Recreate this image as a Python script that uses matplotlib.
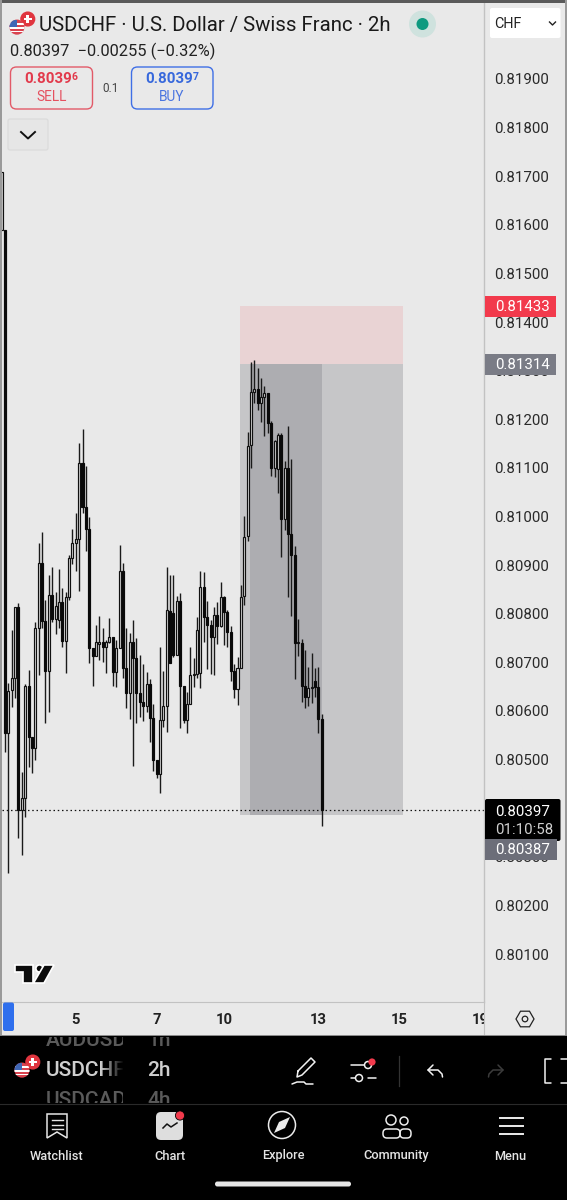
#!/usr/bin/env python3
import numpy as np
import matplotlib
matplotlib.use('Agg')
import matplotlib.pyplot as plt
from matplotlib.patches import Circle, FancyBboxPatch, Polygon, Rectangle

plt.rcParams['font.family'] = ['Roboto', 'DejaVu Sans']

# candles, in 1e-5 of a franc
opens = [81589, 81589, 80555, 80643, 80668, 80814, 80396, 80421, 80651, 80546, 80524, 80771,
         80904, 80785, 80682, 80839, 80789, 80787, 80824, 80744, 80834, 80915, 80946, 80954,
         81110, 81020, 80974, 80730, 80713, 80738, 80742, 80732, 80742, 80752, 80680, 80730,
         80888, 80688, 80637, 80742, 80709, 80637, 80618, 80610, 80656, 80586, 80499, 80470,
         80581, 80610, 80806, 80802, 80715, 80826, 80651, 80581, 80614, 80674, 80676, 80678,
         80855, 80793, 80777, 80752, 80797, 80775, 80834, 80804, 80762, 80682, 80645, 80688,
         80837, 80960, 81147, 81256, 81262, 81234, 81246, 81254, 81192, 81100, 81098, 81168,
         80995, 81100, 80964, 80921, 80740, 80740, 80651, 80629, 80647, 80662, 80649, 80584]
highs = [81709, 81589, 80658, 80767, 80814, 80822, 80474, 80656, 80684, 80546, 80783, 80946,
         80968, 80828, 80880, 80896, 80845, 80892, 80853, 80845, 80921, 80974, 81007, 81151,
         81180, 81104, 80999, 80730, 80777, 80795, 80771, 80746, 80791, 80752, 80746, 80941,
         80904, 80771, 80760, 80787, 80750, 80715, 80697, 80680, 80666, 80614, 80499, 80732,
         80682, 80896, 80880, 80880, 80837, 80843, 80651, 80639, 80732, 80709, 80793, 80888,
         80886, 80826, 80787, 80814, 80824, 80865, 80837, 80808, 80775, 80697, 80711, 80859,
         81001, 81174, 81318, 81322, 81306, 81285, 81268, 81254, 81196, 81157, 81172, 81172,
         81114, 81186, 81118, 80939, 80789, 80748, 80725, 80690, 80719, 80688, 80690, 80594]
lows = [81589, 80516, 80267, 80608, 80627, 80339, 80304, 80382, 80485, 80472, 80499, 80674,
        80771, 80575, 80598, 80783, 80758, 80771, 80732, 80678, 80828, 80902, 80888, 80847,
        81007, 80929, 80699, 80651, 80713, 80705, 80701, 80678, 80740, 80651, 80649, 80730,
        80668, 80606, 80584, 80487, 80575, 80588, 80579, 80598, 80536, 80477, 80462, 80431,
        80567, 80557, 80699, 80711, 80715, 80565, 80575, 80555, 80614, 80649, 80668, 80647,
        80742, 80686, 80676, 80674, 80738, 80773, 80736, 80732, 80662, 80627, 80612, 80688,
        80818, 80950, 81100, 81234, 81219, 81194, 81166, 81172, 81083, 81081, 81048, 80917,
        80972, 80834, 80795, 80666, 80713, 80618, 80606, 80610, 80616, 80629, 80555, 80363]
closes = [81709, 80555, 80641, 80668, 80814, 80396, 80421, 80651, 80546, 80524, 80771, 80904,
          80785, 80682, 80839, 80789, 80816, 80824, 80744, 80834, 80915, 80946, 80954, 81110,
          81020, 80974, 80730, 80713, 80742, 80742, 80732, 80742, 80752, 80680, 80730, 80888,
          80688, 80637, 80742, 80709, 80637, 80618, 80610, 80656, 80586, 80499, 80470, 80581,
          80610, 80808, 80699, 80715, 80826, 80651, 80581, 80614, 80674, 80676, 80767, 80855,
          80793, 80777, 80752, 80797, 80775, 80834, 80804, 80762, 80682, 80645, 80688, 80834,
          80958, 81145, 81256, 81262, 81234, 81246, 81254, 81192, 81100, 81155, 81168, 80995,
          81100, 80964, 80921, 80740, 80742, 80651, 80629, 80647, 80649, 80649, 80584, 80397]

price_ticks = [0.819, 0.818, 0.817, 0.816, 0.815, 0.814, 0.813, 0.812, 0.811, 0.810,
               0.809, 0.808, 0.807, 0.806, 0.805, 0.804, 0.803, 0.802, 0.801]
date_labels = ['5', '7', '10', '13', '15', '19']
date_bars = [22, 46, 66, 94, 118, 142]

last_price = 0.80397
stop_price = 0.81433
entry_price = 0.81314
target_price = 0.80387

nav_labels = ['Watchlist', 'Chart', 'Explore', 'Community', 'Menu']
nav_x = [56.5, 170, 283, 396, 510]

BG = '#e9e9e9'
W, H = 567, 1200
PRICE_FS = 10.8

fig = plt.figure(figsize=(W / 100, H / 100), dpi=100, facecolor=BG)

# main chart, pixel box x 2-484, y 3-1002
ax = fig.add_axes([2 / W, (H - 1002) / H, 482 / W, 999 / H], facecolor=BG)
ax.set_xlim(0.11, 143.15)
ax.set_ylim(0.800014, 0.820563)

o = np.array(opens) / 1e5
h = np.array(highs) / 1e5
l = np.array(lows) / 1e5
c = np.array(closes) / 1e5
bars = np.arange(len(o))

# position tool
ax.add_patch(Rectangle((70.7, entry_price), 48.4, stop_price - entry_price, fc='#e9d3d4', ec='none', zorder=1))
ax.add_patch(Rectangle((70.7, target_price), 48.4, entry_price - target_price, fc='#c6c6c8', ec='none', zorder=1))
ax.add_patch(Rectangle((73.7, target_price), 21.4, entry_price - target_price, fc='#adadb1', ec='none', zorder=1.1))

ax.axhline(last_price, color='#111111', lw=0.9, ls=(0, (1.2, 2.2)), zorder=2)

ax.vlines(bars, l, h, color='#1a1a1a', lw=1.0, zorder=3)
up = c >= o
ax.bar(bars[up], np.abs(c - o)[up], bottom=np.minimum(o, c)[up], width=0.6,
       facecolor='#dcdcdc', edgecolor='#111111', linewidth=0.85, zorder=4)
ax.bar(bars[~up], np.abs(c - o)[~up], bottom=np.minimum(o, c)[~up], width=0.6,
       facecolor='#0a0a0a', edgecolor='#0a0a0a', linewidth=0.85, zorder=4)

ax.yaxis.tick_right()
ax.set_yticks(price_ticks)
ax.set_yticklabels(['%.5f' % p for p in price_ticks], fontsize=PRICE_FS, color='#2a2a2a')
ax.tick_params(axis='y', length=0, pad=7.6)
ax.set_xticks([])
for s in ['top', 'left', 'bottom']:
    ax.spines[s].set_visible(False)
ax.spines['right'].set_color('#c2c2c2')
ax.spines['right'].set_linewidth(1.0)

# time scale
ax_t = fig.add_axes([2 / W, (H - 1036) / H, 482 / W, 34 / H], facecolor=BG, sharex=ax)
ax_t.set_yticks([])
ax_t.tick_params(axis='x', length=0, labelbottom=False)
for s in ['left', 'bottom']:
    ax_t.spines[s].set_visible(False)
ax_t.spines['top'].set_color('#c2c2c2')
ax_t.spines['right'].set_color('#c2c2c2')
ax_t.set_ylim(1, 0)
for d, b in zip(date_labels, date_bars):
    ax_t.text(b, 0.53, d, ha='center', va='center', fontsize=10.6, fontweight='bold',
              color='#222222', clip_on=True)

# everything else is screen furniture, drawn in pixels
ui = fig.add_axes([0, 0, 1, 1], zorder=10)
ui.axis('off')
ui.patch.set_alpha(0)


def box(x0, y0, x1, y1, fc, ec='none', r=2, lw=1.0, z=5):
    p = FancyBboxPatch((x0 + r, y0 + r), x1 - x0 - 2 * r, y1 - y0 - 2 * r,
                       boxstyle='round,pad=%g,rounding_size=%g' % (r, r),
                       fc=fc, ec=ec, lw=lw, zorder=z)
    ui.add_patch(p)
    return p


def flag(dx, dy, s=1.0):
    us = Circle((dx + 6 * s, dy + 14 * s), 7 * s, fc='#d9434f', ec='none', zorder=6)
    ui.add_patch(us)
    for i in [11, 14.5, 18]:
        r = Rectangle((dx - 1 * s, dy + (i - 0.8) * s), 14 * s, 1.6 * s, fc='white', ec='none', zorder=6.1)
        ui.add_patch(r)
        r.set_clip_path(us)
    r = Rectangle((dx - 1 * s, dy + 7 * s), 7 * s, 7 * s, fc='#3f67b5', ec='none', zorder=6.2)
    ui.add_patch(r)
    r.set_clip_path(us)
    ui.add_patch(Circle((dx + 16 * s, dy + 6.5 * s), 7 * s, fc='#e0353f', ec='none', zorder=5.9))
    ui.add_patch(Rectangle((dx + 12.5 * s, dy + 5.2 * s), 7 * s, 2.6 * s, fc='white', ec='none', zorder=6))
    ui.add_patch(Rectangle((dx + 14.7 * s, dy + 3 * s), 2.6 * s, 7 * s, fc='white', ec='none', zorder=6))


def price_box(x0, y0, x1, y1, fc, txt):
    ui.add_patch(Rectangle((x0, y0), x1 - x0, y1 - y0, fc=fc, ec='none', zorder=5))
    ui.text(495, (y0 + y1) / 2 + 0.5, txt, color='white', fontsize=PRICE_FS, ha='left', va='center', zorder=6)


# frame of the screenshot
ui.add_patch(Rectangle((0, 0), W, 3, fc='#5a5a5a', ec='none', zorder=4))
ui.add_patch(Rectangle((0, 0), 2.2, 1036, fc='#9a9a9a', ec='none', zorder=4))
ui.add_patch(Rectangle((565, 0), 2, 1036, fc='#9a9a9a', ec='none', zorder=4))
ui.add_patch(Rectangle((0, 1035), W, 1.2, fc='#8a8a8a', ec='none', zorder=4))
ui.add_patch(Rectangle((0, 1036), W, 164, fc='black', ec='none', zorder=4))

# header
flag(10.5, 12, 1.08)
ui.text(39, 25, 'USDCHF · U.S. Dollar / Swiss Franc · 2h', fontsize=14.65, color='#1a1a1a', ha='left', va='center', zorder=6)
ui.add_patch(Circle((422.5, 24), 13.5, fc='#cfe2de', ec='none', zorder=5))
ui.add_patch(Circle((422.5, 24), 6, fc='#0e9a80', ec='none', zorder=6))
ui.text(10, 51, '0.80397  −0.00255 (−0.32%)', fontsize=11.8, color='#222222', ha='left', va='center', zorder=6)

box(10.5, 67, 92.5, 109, BG, '#e25a68', r=6, lw=1.0)
ui.text(24.5, 79, '0.8039', fontsize=10.8, fontweight='bold', color='#e23a4c', ha='left', va='center', zorder=6)
ui.text(72, 77, '6', fontsize=7.5, fontweight='bold', color='#e23a4c', ha='left', va='center', zorder=6)
ui.text(51.5, 97, 'SELL', fontsize=9.8, color='#e5505f', ha='center', va='center', zorder=6)
ui.text(111, 88, '0.1', fontsize=8.5, color='#444444', ha='center', va='center', zorder=6)
box(131.5, 67, 213, 109, BG, '#3f6fe6', r=6, lw=1.0)
ui.text(145, 79, '0.8039', fontsize=10.8, fontweight='bold', color='#3768dc', ha='left', va='center', zorder=6)
ui.text(192.5, 77, '7', fontsize=7.5, fontweight='bold', color='#3768dc', ha='left', va='center', zorder=6)
ui.text(172, 97, 'BUY', fontsize=9.8, color='#4a75e0', ha='center', va='center', zorder=6)

box(8, 119, 48, 150, '#e6e6e6', '#dadada', r=2, lw=0.8)
ui.plot([21, 28, 35], [132, 138.5, 132], color='#111111', lw=1.4, zorder=6)

box(490, 8, 560.5, 38, '#ffffff', 'none', r=2)
ui.text(494, 24, 'CHF', fontsize=10.4, color='#222222', ha='left', va='center', zorder=6)
ui.plot([549.5, 552.5, 555.5], [22, 25, 22], color='#222222', lw=1.0, zorder=6)

# price scale labels
price_box(484.5, 296, 556, 317, '#f23a4c', '0.81433')
price_box(484.5, 354, 556, 375, '#7a7c86', '0.81314')
box(485, 799, 560.5, 841, 'black', r=2, z=5)
ui.text(495, 811.5, '0.80397', color='white', fontsize=PRICE_FS, ha='left', va='center', zorder=6)
ui.text(495, 829.5, '01:10:58', color='#cfcfcf', fontsize=PRICE_FS, ha='left', va='center', zorder=6)
price_box(485, 839, 556.5, 860, '#6c6e79', '0.80387')

# tradingview mark
logo_kw = dict(fc='#0c0c0c', ec='white', lw=1.2, zorder=6, joinstyle='miter')
ui.add_patch(Polygon([(14.5, 965), (33, 965), (33, 983), (22.5, 983), (22.5, 972), (14.5, 972)], **logo_kw))
ui.add_patch(Circle((39.5, 968.5), 3.6, **logo_kw))
ui.add_patch(Polygon([(44, 965), (54, 965), (44, 983), (33.5, 983)], **logo_kw))

# time scale furniture
box(3, 1002.5, 14, 1031, '#2f6fed', r=2)
hx = 525 + 9 * np.cos(np.arange(6) * np.pi / 3)
hy = 1019 + 9 * np.sin(np.arange(6) * np.pi / 3)
ui.add_patch(Polygon(np.column_stack([hx, hy]), closed=True, fc='none', ec='#222222', lw=0.9, zorder=6))
ui.add_patch(Circle((525, 1019), 2.8, fc='none', ec='#222222', lw=0.9, zorder=6))

# symbol picker, rows are cut off by the wheel's window
clip = Rectangle((46, 1037), 77, 66, transform=ui.transData)
clip2 = Rectangle((140, 1037), 40, 66, transform=ui.transData)
for txt, y, col in [('AUDUSD', 1041, '#5a5a5a'), ('USDCHF', 1071, '#cfcfcf'), ('USDCAD', 1100, '#5a5a5a')]:
    t = ui.text(46, y, txt, fontsize=15, fontweight='medium', color=col, ha='left', va='center', zorder=6, clip_on=True)
    t.set_clip_path(clip)
for txt, y, col in [('1h', 1041, '#5a5a5a'), ('2h', 1071, '#cfcfcf'), ('4h', 1100, '#5a5a5a')]:
    t = ui.text(147, y, txt, fontsize=15, fontweight='medium', color=col, ha='left', va='center', zorder=6, clip_on=True)
    t.set_clip_path(clip2)
fade = np.zeros((1, 24, 4))
fade[0, :, 3] = np.linspace(0, 1, 24)
ui.imshow(fade, extent=(100, 124, 1085, 1055), aspect='auto', zorder=6.5)
flag(15.5, 1055, 1.08)
ui.plot([0, W], [1104, 1104], color='#2a2a2a', lw=0.8, zorder=6)

# drawing tools
w_kw = dict(color='#f2f2f2', lw=1.1, zorder=6, solid_capstyle='round')
ui.plot([298, 311, 315, 302, 297, 298], [1071, 1058, 1062, 1075, 1077, 1071], **w_kw)
ui.plot([292, 297, 304, 306, 313], [1084, 1082, 1082, 1084, 1084], **w_kw)
ui.plot([351, 365], [1065, 1065], **w_kw)
ui.plot([368, 376], [1078, 1078], **w_kw)
ui.plot([351, 355], [1078, 1078], **w_kw)
ui.add_patch(Circle((359, 1078), 3.5, fc='black', ec='#f2f2f2', lw=1.1, zorder=6))
ui.add_patch(Circle((368, 1065), 3.5, fc='black', ec='#f2f2f2', lw=1.1, zorder=6))
ui.add_patch(Circle((372, 1062), 3.6, fc='#f23a4c', ec='none', zorder=7))
ui.plot([399, 399], [1056, 1086], color='#333333', lw=0.9, zorder=6)
ui.plot([433, 428, 433], [1065, 1070, 1075], **w_kw)
ui.plot([428, 438, 442, 442.5], [1070, 1070, 1074, 1077], **w_kw)
r_kw = dict(w_kw, color='#3c3c3c')
ui.plot([498, 503, 498], [1065, 1070, 1075], **r_kw)
ui.plot([503, 493, 489, 488.5], [1070, 1070, 1074, 1077], **r_kw)
ui.plot([551, 545, 545, 551], [1059, 1059, 1083, 1083], **w_kw)
ui.plot([561, 567], [1059, 1059], **w_kw)
ui.plot([561, 567], [1083, 1083], **w_kw)

# bottom navigation
for lab, x in zip(nav_labels, nav_x):
    ui.text(x, 1156, lab, fontsize=9.2, fontweight='medium', color='#e4e4e4', ha='center', va='center', zorder=6)

ui.add_patch(Polygon([(47, 1114), (67, 1114), (67, 1138), (57, 1132), (47, 1138)], fc='none', ec='#e6e6e6', lw=1.1, zorder=6))
for yy in [1120, 1124.5, 1129]:
    ui.plot([51.5, 62.5], [yy, yy], color='#e6e6e6', lw=1.0, zorder=6)

box(156, 1112, 183, 1140, '#dedede', r=5)
ui.plot([163, 167, 171, 177], [1128, 1124, 1127, 1123], color='#111111', lw=1.1, zorder=6)
ui.add_patch(Circle((180, 1115.5), 4.6, fc='#f23a4c', ec='black', lw=0.6, zorder=7))

ui.add_patch(Circle((282, 1125), 13.5, fc='none', ec='#ececec', lw=1.1, zorder=6))
ui.add_patch(Polygon([(290, 1117), (285, 1128), (274, 1133), (279, 1122)], fc='#ececec', ec='none', zorder=6))

ui.add_patch(Circle((391, 1120), 5, fc='none', ec='#ececec', lw=1.1, zorder=6))
ui.add_patch(Circle((404, 1121), 4, fc='none', ec='#ececec', lw=1.1, zorder=6))
box(383, 1129, 400, 1138, 'none', '#ececec', r=4, lw=1.1, z=6)
box(400, 1129, 411, 1138, 'none', '#ececec', r=4, lw=1.1, z=6)

for yy in [1118, 1126, 1134]:
    ui.plot([499.5, 522.5], [yy, yy], color='#ececec', lw=1.4, zorder=6)

box(215, 1181.5, 351, 1186.5, '#e6e6e6', r=2.4)

# set last: imshow would otherwise reset the pixel limits
ui.set_xlim(0, W)
ui.set_ylim(H, 0)

fig.savefig('out.png', dpi=100, facecolor=BG)
